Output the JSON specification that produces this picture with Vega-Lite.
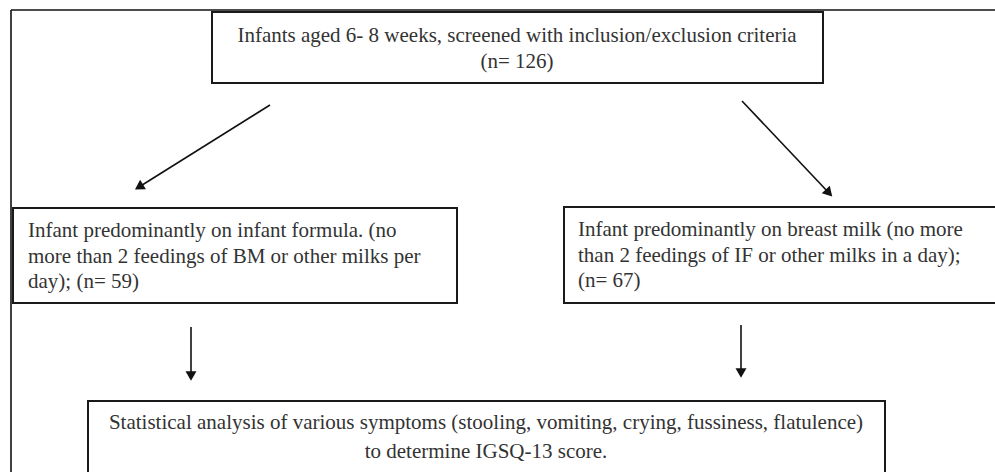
{
  "$schema": "https://vega.github.io/schema/vega-lite/v6.json",
  "width": 995,
  "height": 472,
  "autosize": {"type": "none"},
  "padding": 0,
  "background": "white",
  "config": {"view": {"stroke": null}},
  "datasets": {
    "boxes": [
      {"box": "top", "x0": 212, "x1": 823, "y0": 12, "y1": 83},
      {"box": "left", "x0": 13, "x1": 457, "y0": 208, "y1": 303},
      {"box": "right", "x0": 564, "x1": 1000, "y0": 207, "y1": 303},
      {"box": "bottom", "x0": 88, "x1": 885, "y0": 401, "y1": 480}
    ],
    "segments": [
      {"seg": "frame-top", "x0": 11, "y0": 10, "x1": 995, "y1": 10},
      {"seg": "frame-left", "x0": 11, "y0": 10, "x1": 11, "y1": 472},
      {"seg": "arrow-left-diag", "x0": 270, "y0": 105, "x1": 139, "y1": 187},
      {"seg": "arrow-right-diag", "x0": 742, "y0": 101, "x1": 829, "y1": 193},
      {"seg": "arrow-left-down", "x0": 191, "y0": 327, "x1": 191, "y1": 376},
      {"seg": "arrow-right-down", "x0": 741, "y0": 325, "x1": 741, "y1": 373}
    ],
    "heads": [
      {"arrow": "left-diag", "x": 139, "y": 187},
      {"arrow": "right-diag", "x": 829, "y": 193},
      {"arrow": "left-down", "x": 191, "y": 376},
      {"arrow": "right-down", "x": 741, "y": 373}
    ],
    "labels": [
      {"box": "top", "x": 517, "y": 42, "text": "Infants aged 6- 8 weeks, screened with inclusion/exclusion criteria"},
      {"box": "top", "x": 517, "y": 68, "text": "(n= 126)"},
      {"box": "left", "x": 28, "y": 237, "text": "Infant predominantly on infant formula. (no"},
      {"box": "left", "x": 28, "y": 263, "text": "more than 2 feedings of BM or other milks per"},
      {"box": "left", "x": 28, "y": 288, "text": "day); (n= 59)"},
      {"box": "right", "x": 578, "y": 236, "text": "Infant predominantly on breast milk (no more"},
      {"box": "right", "x": 578, "y": 262, "text": "than 2 feedings of IF or other milks in a day);"},
      {"box": "right", "x": 578, "y": 287, "text": "(n= 67)"},
      {"box": "bottom", "x": 486, "y": 429, "text": "Statistical analysis of various symptoms (stooling, vomiting, crying, fussiness, flatulence)"},
      {"box": "bottom", "x": 486, "y": 458, "text": "to determine IGSQ-13 score."}
    ]
  },
  "layer": [
    {
      "data": {"name": "boxes"},
      "mark": {"type": "rect", "fill": "white", "stroke": "#1a1a1a", "strokeWidth": 2, "clip": true},
      "encoding": {
        "x": {"field": "x0", "type": "quantitative", "scale": {"domain": [0, 995], "nice": false, "zero": false}, "axis": null},
        "x2": {"field": "x1"},
        "y": {"field": "y0", "type": "quantitative", "scale": {"domain": [0, 472], "nice": false, "zero": false, "reverse": true}, "axis": null},
        "y2": {"field": "y1"}
      }
    },
    {
      "data": {"name": "segments"},
      "mark": {"type": "rule", "stroke": "#111111", "strokeWidth": 1.6, "clip": true},
      "encoding": {
        "x": {"field": "x0", "type": "quantitative", "scale": {"domain": [0, 995], "nice": false, "zero": false}, "axis": null},
        "x2": {"field": "x1"},
        "y": {"field": "y0", "type": "quantitative", "scale": {"domain": [0, 472], "nice": false, "zero": false, "reverse": true}, "axis": null},
        "y2": {"field": "y1"}
      }
    },
    {
      "data": {"name": "heads"},
      "transform": [{"filter": "datum.arrow === 'left-down' || datum.arrow === 'right-down'"}],
      "mark": {"type": "point", "shape": "triangle-down", "filled": true, "color": "#111111", "size": 120, "opacity": 1},
      "encoding": {
        "x": {"field": "x", "type": "quantitative", "scale": {"domain": [0, 995], "nice": false, "zero": false}, "axis": null},
        "y": {"field": "y", "type": "quantitative", "scale": {"domain": [0, 472], "nice": false, "zero": false, "reverse": true}, "axis": null}
      }
    },
    {
      "data": {"name": "heads"},
      "transform": [{"filter": "datum.arrow === 'left-diag'"}],
      "mark": {"type": "point", "shape": "triangle-up", "angle": 238, "filled": true, "color": "#111111", "size": 120, "opacity": 1},
      "encoding": {
        "x": {"field": "x", "type": "quantitative", "scale": {"domain": [0, 995], "nice": false, "zero": false}, "axis": null},
        "y": {"field": "y", "type": "quantitative", "scale": {"domain": [0, 472], "nice": false, "zero": false, "reverse": true}, "axis": null}
      }
    },
    {
      "data": {"name": "heads"},
      "transform": [{"filter": "datum.arrow === 'right-diag'"}],
      "mark": {"type": "point", "shape": "triangle-up", "angle": 137, "filled": true, "color": "#111111", "size": 120, "opacity": 1},
      "encoding": {
        "x": {"field": "x", "type": "quantitative", "scale": {"domain": [0, 995], "nice": false, "zero": false}, "axis": null},
        "y": {"field": "y", "type": "quantitative", "scale": {"domain": [0, 472], "nice": false, "zero": false, "reverse": true}, "axis": null}
      }
    },
    {
      "data": {"name": "labels"},
      "transform": [{"filter": "datum.box === 'top' || datum.box === 'bottom'"}],
      "mark": {"type": "text", "font": "Liberation Serif, Times New Roman, serif", "fontSize": 21, "color": "#333333", "align": "center", "baseline": "alphabetic"},
      "encoding": {
        "x": {"field": "x", "type": "quantitative", "scale": {"domain": [0, 995], "nice": false, "zero": false}, "axis": null},
        "y": {"field": "y", "type": "quantitative", "scale": {"domain": [0, 472], "nice": false, "zero": false, "reverse": true}, "axis": null},
        "text": {"field": "text"}
      }
    },
    {
      "data": {"name": "labels"},
      "transform": [{"filter": "datum.box === 'left' || datum.box === 'right'"}],
      "mark": {"type": "text", "font": "Liberation Serif, Times New Roman, serif", "fontSize": 21, "color": "#333333", "align": "left", "baseline": "alphabetic"},
      "encoding": {
        "x": {"field": "x", "type": "quantitative", "scale": {"domain": [0, 995], "nice": false, "zero": false}, "axis": null},
        "y": {"field": "y", "type": "quantitative", "scale": {"domain": [0, 472], "nice": false, "zero": false, "reverse": true}, "axis": null},
        "text": {"field": "text"}
      }
    }
  ]
}
